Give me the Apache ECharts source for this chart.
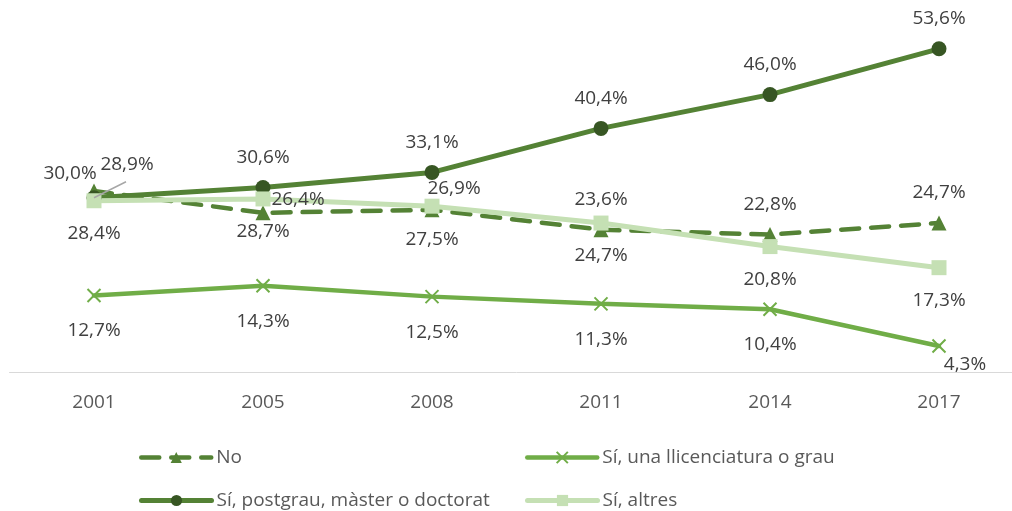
<!DOCTYPE html>
<html>
<head>
<meta charset="utf-8">
<script src="https://cdn.jsdelivr.net/npm/echarts@6/dist/echarts.min.js"></script>
<style>
  html, body { margin: 0; padding: 0; background: #ffffff; overflow: hidden; }
  /* plot area runs slightly past the right edge of the window */
  #chart { width: 1030px; height: 511px; }
</style>
</head>
<body>
<div id="chart"></div>
<script>
// Years surveyed
const years = ['2001', '2005', '2008', '2011', '2014', '2017'];

// Share of respondents (%) by answer
const seriesNames = ['No', 'Sí, una llicenciatura o grau', 'Sí, postgrau, màster o doctorat', 'Sí, altres'];
const noValues = [30.0, 26.4, 26.9, 23.6, 22.8, 24.7];
const grauValues = [12.7, 14.3, 12.5, 11.3, 10.4, 4.3];
const postgrauValues = [28.9, 30.6, 33.1, 40.4, 46.0, 53.6];
const altresValues = [28.4, 28.7, 27.5, 24.7, 20.8, 17.3];

const FONT = '"Open Sans", "Liberation Sans", sans-serif';
const LABEL_COLOR = '#404040';
const fmt = p => p.value.toFixed(1).replace('.', ',') + '%';

function baseLabel(position, distance) {
  return {
    show: true,
    position: position,
    distance: distance,
    formatter: fmt,
    color: LABEL_COLOR,
    fontFamily: FONT,
    fontSize: 19
  };
}

// Per-point label nudges where labels would collide
function withOffsets(values, offsets) {
  return values.map((v, i) => offsets[i] ? { value: v, label: { offset: offsets[i] } } : v);
}

const chart = echarts.init(document.getElementById('chart'), null, { renderer: 'canvas' });

function legendAt(name, left, top, lineWidth) {
  return {
    data: [name],
    left: left,
    top: top,
    itemWidth: 70,
    itemHeight: 14,
    lineStyle: { width: lineWidth, cap: 'round' },
    textStyle: { color: '#595959', fontFamily: FONT, fontSize: 19 },
    selectedMode: false
  };
}

chart.setOption({
  animation: false,
  backgroundColor: '#ffffff',
  legend: [
    legendAt(seriesNames[0], 134, 443, 4.5),
    legendAt(seriesNames[1], 520, 443, 4.5),
    legendAt(seriesNames[2], 134, 486, 5),
    legendAt(seriesNames[3], 520, 486, 5)
  ],
  grid: { left: 9.5, width: 1014, top: 10.2, bottom: 139 },
  xAxis: {
    type: 'category',
    data: years,
    boundaryGap: true,
    axisLine: { show: true, lineStyle: { color: '#d9d9d9', width: 1 } },
    axisTick: { show: false },
    axisLabel: { color: '#595959', fontFamily: FONT, fontSize: 19, margin: 21 },
    splitLine: { show: false }
  },
  yAxis: {
    type: 'value',
    min: 0,
    max: 60,
    show: false,
    splitLine: { show: false }
  },
  series: [
    {
      name: seriesNames[0],
      type: 'line',
      data: withOffsets(noValues, [[-24, 12], [35, 17], [22, 9]]),
      symbol: 'triangle',
      symbolSize: 15,
      lineStyle: { color: '#548235', width: 4.5, type: [18, 12], cap: 'round' },
      itemStyle: { color: '#548235' },
      label: baseLabel('top', 13)
    },
    {
      name: seriesNames[1],
      type: 'line',
      data: withOffsets(grauValues, [null, null, null, null, null, [26, -17]]),
      symbol: 'path://M0,0L10,10M10,0L0,10',
      symbolSize: 13,
      lineStyle: { color: '#70ad47', width: 4.5, cap: 'round' },
      itemStyle: { color: 'none', borderColor: '#70ad47', borderWidth: 2 },
      label: baseLabel('bottom', 17)
    },
    {
      name: seriesNames[2],
      type: 'line',
      data: withOffsets(postgrauValues, [[33, -3]]),
      symbol: 'circle',
      symbolSize: 15,
      lineStyle: { color: '#548235', width: 5, cap: 'round' },
      itemStyle: { color: '#375623' },
      label: baseLabel('top', 13)
    },
    {
      name: seriesNames[3],
      type: 'line',
      data: altresValues,
      symbol: 'rect',
      symbolSize: 15,
      lineStyle: { color: '#c5e0b4', width: 5, cap: 'round' },
      itemStyle: { color: '#c5e0b4' },
      label: baseLabel('bottom', 16)
    }
  ]
});

// Leader line from the first postgrau point to its shifted label
const p0 = chart.convertToPixel({ seriesIndex: 2 }, [0, postgrauValues[0]]);
chart.setOption({
  graphic: [{
    type: 'line',
    z: 100,
    shape: { x1: p0[0], y1: p0[1], x2: p0[0] + 32, y2: p0[1] - 16 },
    style: { stroke: '#a6a6a6', lineWidth: 1.5 }
  }]
});
</script>
</body>
</html>
